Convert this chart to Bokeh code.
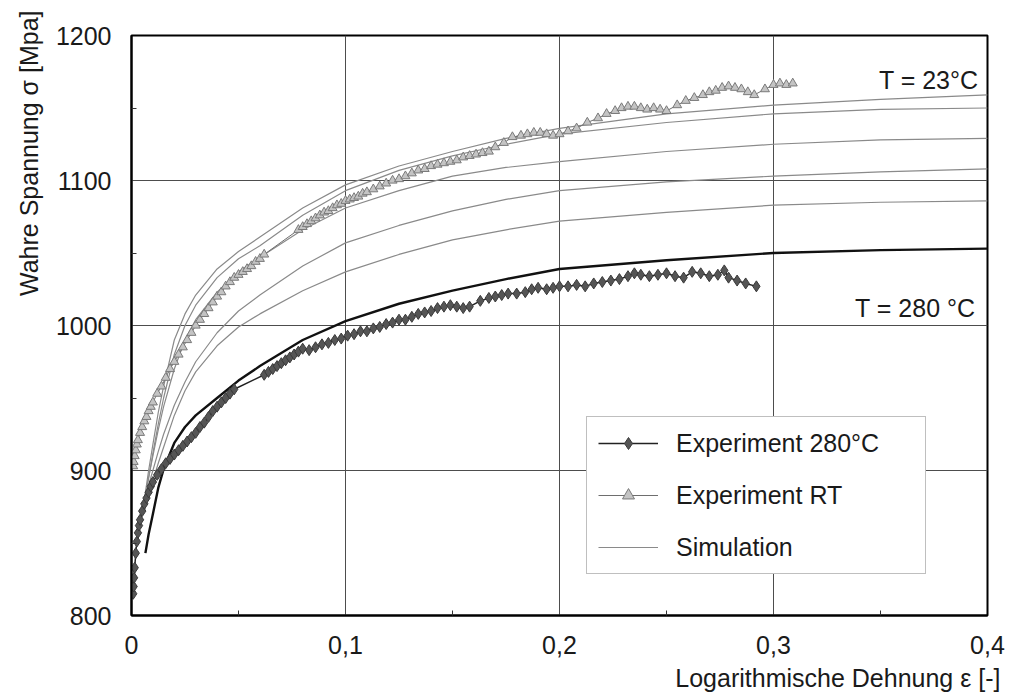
import math
from bokeh.plotting import figure
from bokeh.models import Range1d, FixedTicker, Legend, LegendItem, Label, Title
from bokeh.embed import file_html
from bokeh.resources import INLINE

FONT = "Liberation Sans"
FS = "25px"

# ---------------- data ----------------
x_ticks = [0, 0.1, 0.2, 0.3, 0.4]
x_tick_labels = ["0", "0,1", "0,2", "0,3", "0,4"]
x_minor = [0.05, 0.15, 0.25, 0.35]
y_ticks = [800, 900, 1000, 1100, 1200]
y_tick_labels = ["800", "900", "1000", "1100", "1200"]
y_minor = [850, 950, 1050, 1150]

sim_x = [0.006, 0.008, 0.01, 0.0125, 0.015, 0.02, 0.025, 0.03, 0.04, 0.05, 0.06,
         0.08, 0.1, 0.125, 0.15, 0.175, 0.2, 0.25, 0.3, 0.35, 0.4]
sim_rt_1 = [880, 900, 918, 940, 958, 990, 1008, 1021, 1039, 1051, 1061,
            1081, 1097, 1110, 1120, 1129, 1136, 1146, 1152, 1156, 1159]
sim_rt_2 = [878, 895, 912, 932, 950, 980, 1000, 1014, 1033, 1046, 1055,
            1076, 1093, 1107, 1117, 1125, 1132, 1140, 1146, 1149, 1150]
sim_rt_3 = [880, 895, 910, 928, 944, 970, 990, 1004, 1023, 1037, 1047,
            1066, 1081, 1093, 1103, 1109, 1113, 1120, 1125, 1128, 1129]
sim_rt_4 = [878, 890, 900, 913, 925, 945, 961, 975, 995, 1010, 1021,
            1041, 1057, 1069, 1079, 1087, 1093, 1099, 1103, 1106, 1108]
sim_rt_5 = [872, 883, 893, 905, 916, 938, 955, 968, 986, 999, 1008,
            1024, 1037, 1049, 1059, 1066, 1072, 1078, 1083, 1085, 1086]

sim280_x = [0.0065, 0.008, 0.01, 0.0125, 0.015, 0.02, 0.025, 0.03, 0.04, 0.05, 0.06,
            0.08, 0.1, 0.125, 0.15, 0.175, 0.2, 0.25, 0.3, 0.35, 0.4]
sim280_y = [843, 856, 870, 888, 901, 919, 930, 938, 950, 962, 972,
            990, 1003, 1015, 1024, 1032, 1039, 1045, 1050, 1052, 1053]

exp280_x = [0.0008, 0.001, 0.0012, 0.0015, 0.002, 0.0025, 0.003, 0.0035, 0.004, 0.005,
            0.006, 0.007, 0.008, 0.009, 0.010, 0.012, 0.014, 0.016, 0.018, 0.020,
            0.022, 0.024, 0.026, 0.028, 0.030, 0.032, 0.034, 0.036, 0.038, 0.040,
            0.042, 0.044, 0.046, 0.048,
            0.062, 0.064, 0.066, 0.068, 0.070, 0.072, 0.074, 0.076, 0.078, 0.080,
            0.083, 0.086, 0.089, 0.092, 0.095, 0.098, 0.101, 0.104, 0.107, 0.110,
            0.113, 0.116, 0.119, 0.122, 0.125, 0.128, 0.131, 0.134, 0.137, 0.140,
            0.143, 0.146, 0.149, 0.152, 0.155, 0.158, 0.163, 0.167, 0.170, 0.173,
            0.176, 0.180, 0.184, 0.187, 0.190, 0.194, 0.197, 0.200, 0.204, 0.208,
            0.212, 0.216, 0.220, 0.224, 0.228, 0.232, 0.235, 0.238, 0.242, 0.246,
            0.250, 0.254, 0.258, 0.262, 0.266, 0.270, 0.274, 0.277, 0.279, 0.283,
            0.287, 0.292]
exp280_y = [815, 820, 826, 833, 843, 851, 857, 862, 866, 872,
            877, 881, 885, 889, 892, 897, 901, 905, 908, 911,
            914, 917, 920, 923, 926, 930, 933, 937, 941, 944,
            947, 950, 953, 956,
            966, 968, 970, 972, 974, 976, 978, 980, 982, 984,
            983, 985, 987, 988, 990, 991, 993, 994, 996, 996,
            998, 999, 1001, 1002, 1004, 1004, 1006, 1008, 1009, 1010,
            1012, 1013, 1014, 1013, 1012, 1013, 1017, 1019, 1020, 1021,
            1022, 1022, 1023, 1025, 1026, 1025, 1026, 1027, 1027, 1028,
            1027, 1029, 1030, 1031, 1032, 1034, 1036, 1035, 1034, 1035,
            1036, 1034, 1033, 1037, 1036, 1034, 1035, 1038, 1033, 1031,
            1029, 1027]

exprt_x = [0.0008, 0.001, 0.0015, 0.002, 0.0025, 0.003, 0.004, 0.005, 0.006, 0.007,
           0.008, 0.009, 0.010, 0.012, 0.014, 0.016, 0.018, 0.020, 0.022, 0.024,
           0.026, 0.028, 0.030, 0.032, 0.034, 0.036, 0.038, 0.040, 0.042, 0.044,
           0.046, 0.048, 0.050, 0.052, 0.054, 0.056, 0.058, 0.060, 0.062,
           0.078, 0.080, 0.082, 0.084, 0.086, 0.088, 0.090, 0.092, 0.094, 0.096,
           0.098, 0.100, 0.102, 0.104, 0.106, 0.108, 0.110, 0.113, 0.116, 0.119,
           0.122, 0.125, 0.128, 0.131, 0.134, 0.137, 0.140, 0.143, 0.146, 0.149,
           0.152, 0.155, 0.158, 0.161, 0.164, 0.167, 0.170, 0.174, 0.178, 0.182,
           0.185, 0.188, 0.191, 0.194, 0.197, 0.200, 0.204, 0.208, 0.213, 0.218,
           0.222, 0.226, 0.229, 0.232, 0.235, 0.238, 0.241, 0.244, 0.247, 0.250,
           0.255, 0.259, 0.263, 0.267, 0.270, 0.273, 0.276, 0.279, 0.282, 0.285,
           0.288, 0.291, 0.296, 0.300, 0.303, 0.306, 0.309]
exprt_y = [903, 906, 910, 914, 918, 921, 926, 930, 934, 937,
           941, 944, 947, 953, 958, 964, 970, 975, 980, 985,
           990, 995, 1000, 1004, 1008, 1012, 1016, 1020, 1023, 1027,
           1030, 1033, 1035, 1037, 1039, 1041, 1044, 1046, 1049,
           1066, 1068, 1070, 1072, 1074, 1076, 1078, 1079, 1081, 1083,
           1084, 1086, 1087, 1088, 1089, 1091, 1092, 1094, 1096, 1098,
           1100, 1101, 1103, 1105, 1107, 1108, 1110, 1111, 1112, 1113,
           1114, 1116, 1117, 1118, 1119, 1120, 1123, 1126, 1130, 1131,
           1132, 1133, 1133, 1132, 1131, 1132, 1134, 1136, 1140, 1143,
           1146, 1148, 1150, 1151, 1151, 1150, 1149, 1150, 1149, 1148,
           1152, 1155, 1157, 1159, 1161, 1162, 1164, 1165, 1164, 1163,
           1161, 1159, 1163, 1166, 1167, 1166, 1167]

legend_labels = ["Experiment 280°C", "Experiment RT", "Simulation"]
curve_labels = ["T = 23°C", "T = 280 °C"]
x_title = "Logarithmische Dehnung ε [-]"
y_title = "Wahre Spannung σ [Mpa]"

# ---------------- figure ----------------
p = figure(width=1009, height=697,
           x_range=Range1d(0, 0.4), y_range=Range1d(800, 1200),
           output_backend="svg", toolbar_location=None,
           min_border_left=131, min_border_right=22,
           min_border_top=35, min_border_bottom=82)
p.background_fill_color = "white"
p.border_fill_color = "white"
p.outline_line_color = "black"
p.outline_line_width = 2

p.xaxis.ticker = FixedTicker(ticks=x_ticks, minor_ticks=x_minor)
p.yaxis.ticker = FixedTicker(ticks=y_ticks, minor_ticks=y_minor)
p.xaxis.major_label_overrides = dict(zip(x_ticks, x_tick_labels))
p.yaxis.major_label_overrides = dict(zip(y_ticks, y_tick_labels))

for ax in (p.xaxis, p.yaxis):
    ax.axis_line_color = "black"
    ax.axis_line_width = 2
    ax.major_tick_in = 0
    ax.major_tick_out = 0
    ax.minor_tick_in = 5
    ax.minor_tick_out = 0
    ax.minor_tick_line_color = "#333333"
    ax.major_label_text_font = FONT
    ax.major_label_text_font_size = FS
    ax.major_label_text_color = "#1a1a1a"
p.xaxis.major_label_standoff = 20
p.yaxis.major_label_standoff = 20

# axis titles as side titles (right/top aligned like the reference)
xt = Title(text=x_title, align="right", offset=-13, standoff=11,
           text_font=FONT, text_font_size=FS, text_font_style="normal",
           text_color="#1a1a1a")
p.add_layout(xt, "below")
yt = Title(text=y_title, align="right", offset=-25, standoff=19,
           text_font=FONT, text_font_size=FS, text_font_style="normal",
           text_color="#1a1a1a")
p.add_layout(yt, "left")

for g in (p.xgrid, p.ygrid):
    g.grid_line_color = "#4d4d4d"
    g.grid_line_width = 1

# simulation curves
sim_color = "#8a8a8a"
sim_rs = []
for ys in (sim_rt_1, sim_rt_2, sim_rt_3, sim_rt_4, sim_rt_5):
    sim_rs.append(p.line(sim_x, ys, line_color=sim_color, line_width=1.2))
p.line(sim280_x, sim280_y, line_color="#111111", line_width=2.4)

# experiments
rt_line = p.line(exprt_x, exprt_y, line_color="#6e6e6e", line_width=1)
rt_pts = p.scatter(exprt_x, exprt_y, marker="triangle", size=9,
                   fill_color="#c4c4c4", line_color="#7a7a7a", line_width=1)
e280_line = p.line(exp280_x, exp280_y, line_color="#222222", line_width=1.5)
e280_pts = p.scatter(exp280_x, exp280_y, marker="diamond", size=11,
                     fill_color="#555555", line_color="#3a3a3a", line_width=1)

legend = Legend(items=[
    LegendItem(label=legend_labels[0], renderers=[e280_line, e280_pts]),
    LegendItem(label=legend_labels[1], renderers=[rt_line, rt_pts]),
    LegendItem(label=legend_labels[2], renderers=[sim_rs[0]]),
])
legend.location = (455, 41)
legend.label_text_font = FONT
legend.label_text_font_size = FS
legend.label_text_color = "#1a1a1a"
legend.glyph_width = 60
legend.glyph_height = 30
legend.label_height = 30
legend.label_width = 238
legend.label_standoff = 18
legend.spacing = 22
legend.padding = 11
legend.margin = 0
legend.border_line_color = "#7f7f7f"
legend.border_line_width = 1
legend.background_fill_color = "white"
legend.background_fill_alpha = 1
p.add_layout(legend)

# curve annotations
p.add_layout(Label(x=0.3958, y=1169, text=curve_labels[0], text_align="right",
                   text_baseline="middle", text_font=FONT, text_font_size=FS,
                   text_color="#1a1a1a"))
p.add_layout(Label(x=0.3944, y=1012, text=curve_labels[1], text_align="right",
                   text_baseline="middle", text_font=FONT, text_font_size=FS,
                   text_color="#1a1a1a"))

open("out.html", "w").write(file_html(p, INLINE))
